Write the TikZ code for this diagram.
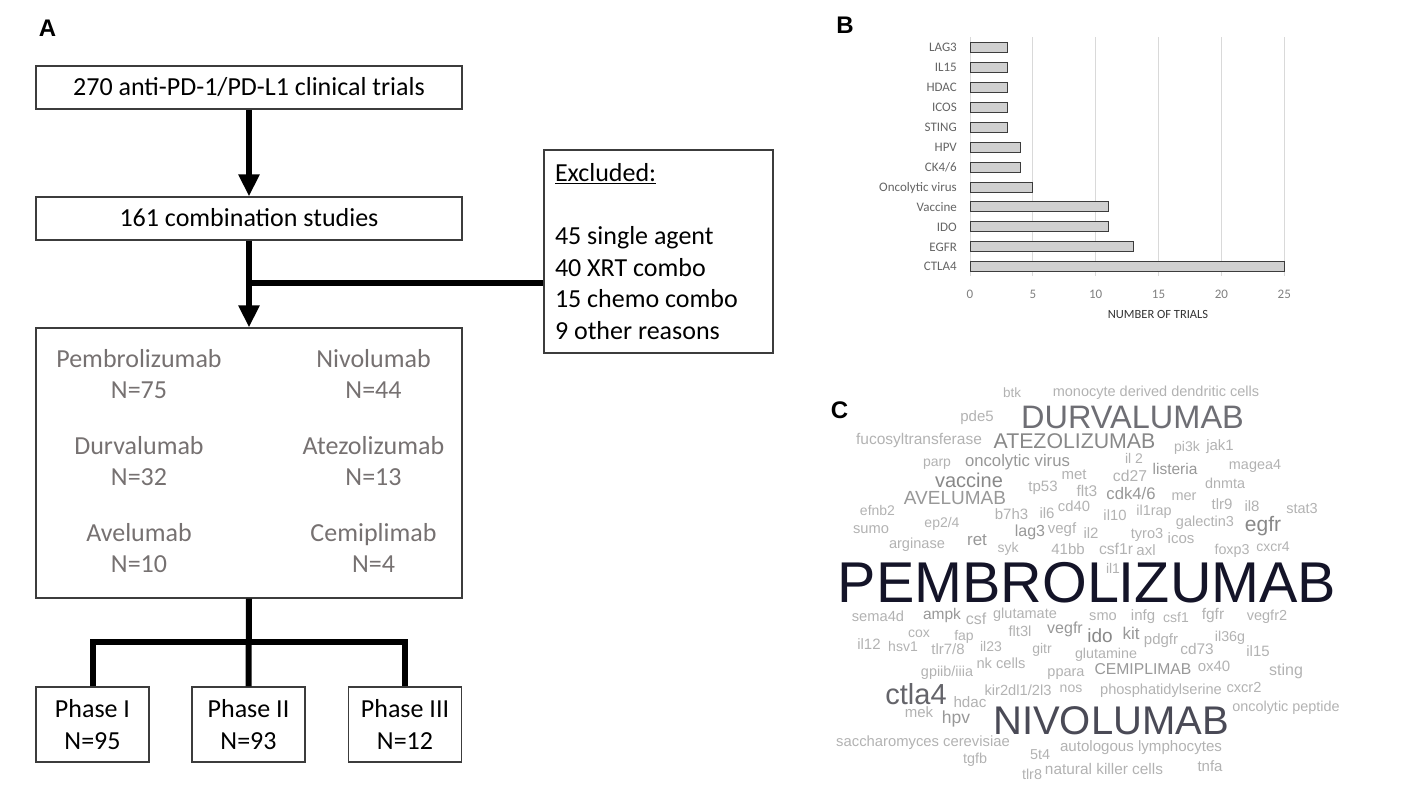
\documentclass[tikz,border=0pt]{standalone}
\usepackage{fontspec}
\setmainfont{Carlito}
\newfontfamily\cloudfont{Liberation Sans}
\usetikzlibrary{arrows.meta}
\definecolor{boxline}{RGB}{60,60,60}
\definecolor{druggray}{RGB}{118,113,113}
\definecolor{barfill}{RGB}{208,208,208}
\definecolor{barline}{RGB}{60,60,60}
\definecolor{gridgray}{RGB}{217,217,217}
\definecolor{labgray}{RGB}{100,100,100}
\definecolor{tickgray}{RGB}{128,128,128}
\definecolor{cwA}{RGB}{178,178,178}
\definecolor{cwB}{RGB}{152,152,152}
\definecolor{cwC}{RGB}{136,136,136}
\definecolor{cwD}{RGB}{110,110,116}
\definecolor{cwE}{RGB}{100,100,106}
\definecolor{cwN}{RGB}{74,74,86}
\definecolor{cwP}{RGB}{20,20,40}
\begin{document}
\begin{tikzpicture}[x=1pt,y=-1pt]
\useasboundingbox (0,0) rectangle (1418,798);
\tikzstyle{panel} = [anchor=base, inner sep=0pt, font=\cloudfont\bfseries\fontsize{24}{24}\selectfont]
\tikzstyle{flowbox} = [draw=boxline, line width=1.2pt, inner sep=0pt, font=\fontsize{26}{31.5}\selectfont]
\tikzstyle{flow} = [line width=6pt, -{Triangle[length=22pt,width=20pt]}]
\tikzstyle{branch} = [line width=6pt]
\tikzstyle{drug} = [align=center, inner sep=0pt, text=druggray, font=\fontsize{26}{31.5}\selectfont]
\node[panel] (labA) at (47.5,36) {A};
\node[panel] (labB) at (845,33.5) {B};
\node[panel] (labC) at (839.5,418.5) {C};
\node[flowbox, minimum width=426pt, minimum height=43pt, text height=16.7pt, text depth=0pt] (trials) at (249,87.5) {270 anti-PD-1/PD-L1 clinical trials};
\node[flowbox, minimum width=426pt, minimum height=43pt, text height=16.7pt, text depth=0pt] (combo) at (249,218.5) {161 combination studies};
\node[flowbox, minimum width=426pt, minimum height=270pt] (agents) at (249,463) {};
\node[flowbox, minimum width=229pt, minimum height=203pt, text width=207pt, inner xsep=11pt, align=flush left] (excl) at (658.5,251.5) {\underline{Excluded:}\\[31.5pt]45 single agent\\40 XRT combo\\15 chemo combo\\9 other reasons};
\node[flowbox, minimum width=113pt, minimum height=75pt, align=center] (ph1) at (92.5,724.5) {Phase I\\N=95};
\node[flowbox, minimum width=113pt, minimum height=75pt, align=center] (ph2) at (248.5,724.5) {Phase II\\N=93};
\node[flowbox, minimum width=113pt, minimum height=75pt, align=center] (ph3) at (405,724.5) {Phase III\\N=12};
\node[drug] (pembro) at (139,374) {Pembrolizumab\\N=75};
\node[drug] (nivo) at (373.5,374) {Nivolumab\\N=44};
\node[drug] (durva) at (139,461) {Durvalumab\\N=32};
\node[drug] (atezo) at (373.5,461) {Atezolizumab\\N=13};
\node[drug] (avelu) at (139,548) {Avelumab\\N=10};
\node[drug] (cemip) at (373.5,548) {Cemiplimab\\N=4};
\coordinate (split) at (249,283);
\draw[flow] (trials.south) -- (combo.north);
\draw[flow] (combo.south) -- (agents.north);
\draw[branch] (split) -- (split -| excl.west);
\draw[branch] (agents.south) -- (ph2.north);
\draw[branch] (ph1.north) -- ++(0,-44) -| (ph3.north);
\tikzstyle{gridline} = [draw=gridgray, line width=1pt]
\tikzstyle{bar} = [draw=barline, fill=barfill, line width=0.9pt]
\tikzstyle{barlab} = [anchor=base east, inner sep=0pt, text=labgray, font=\fontsize{13}{13}\selectfont]
\tikzstyle{ticklab} = [anchor=base, inner sep=0pt, text=tickgray, font=\fontsize{13}{13}\selectfont]
\foreach \t in {0,5,...,25}
  \draw[gridline] ({970+12.57*\t},37) -- ({970+12.57*\t},276);
\foreach \t in {0,5,...,25}
  \node[ticklab] (tick\t) at ({970+12.57*\t},298) {\t};
\foreach \lab/\val [count=\i from 0] in {LAG3/3, IL15/3, HDAC/3, ICOS/3, STING/3, HPV/4, {CK4/6}/4, Oncolytic virus/5, Vaccine/11, IDO/11, EGFR/13, CTLA4/25}{
  \draw[bar] (970,{42.3+19.95*\i}) rectangle ({970+12.57*\val},{52.3+19.95*\i});
  \node[barlab] (bar\i) at (957,{51.5+19.95*\i}) {\lab};
}
\node[anchor=base, inner sep=0pt, text=black!80, font=\fontsize{12.5}{12.5}\selectfont] (xtitle) at (1158,318.5) {NUMBER OF TRIALS};
\tikzstyle{word} = [anchor=base, inner sep=0pt]
\foreach \w/\x/\y/\s/\c [count=\k] in {
  btk/1012/394/13.5/cwA, monocyte derived dendritic cells/1156/393/14.5/cwA,
  pde5/977/418/15/cwA, DURVALUMAB/1132.5/420/32.5/cwD,
  fucosyltransferase/919/440/15.5/cwA, ATEZOLIZUMAB/1074.5/443/21.3/cwC,
  pi3k/1187/448/14/cwA, jak1/1220/447/15/cwA,
  parp/937/463/14/cwA, oncolytic virus/1017.5/462/16.7/cwB,
  il 2/1134/460/14/cwA, listeria/1175/470/15.5/cwB, magea4/1255/466/14.4/cwA,
  met/1074/476/15/cwA, cd27/1130/477/15.7/cwA,
  vaccine/969/482/20/cwC, tp53/1043/488/15/cwA, flt3/1087/492/15.5/cwA,
  {cdk4/6}/1131/495/16.7/cwB, mer/1184/497/14.5/cwA, dnmta/1225/485/14.4/cwA,
  AVELUMAB/955/500/19/cwB,
  efnb2/877.5/512/14/cwA, b7h3/1011.5/516/15/cwA, il6/1047/515/15/cwA,
  cd40/1074/508/14.8/cwA, il10/1115/517/14.8/cwA, il1rap/1154/512/14.4/cwA,
  tlr9/1222/506/15/cwA, il8/1252/508/15/cwA, stat3/1302/510/14.5/cwA,
  {ep2/4}/942/524/14/cwA, galectin3/1205/523/14.5/cwA, egfr/1263/526/21/cwC,
  sumo/871/530/14.7/cwA, lag3/1030/532/16/cwB, vegf/1062/530/15/cwA,
  il2/1091/535/15/cwA, tyro3/1147/535/14.6/cwA, icos/1181/540/15/cwA,
  arginase/917/545/14.6/cwA, ret/977/541/17/cwB, syk/1008/549/14/cwA,
  41bb/1068/551/15/cwA, csf1r/1116/550/15.7/cwA, axl/1146/552/15/cwA,
  foxp3/1232/551/14.3/cwA, cxcr4/1273/548/14/cwA, il1/1113/570/14/cwA,
  PEMBROLIZUMAB/1087/588/57.5/cwP,
  sema4d/878/618/14.7/cwA, ampk/942/615/15.5/cwB, csf/976/620/16/cwA,
  glutamate/1025/615/14.5/cwA, smo/1103/617/14.6/cwA, infg/1143/617/15/cwA,
  csf1/1176/619/14/cwA, fgfr/1213/615/15.5/cwA, vegfr2/1267/617/14.5/cwA,
  cox/919/634/14/cwA, fap/964/637/14/cwA, flt3l/1020/633/14.7/cwA,
  vegfr/1065/629/16/cwB, ido/1100/638/19/cwC, kit/1131/635/17/cwB,
  pdgfr/1161/641/15/cwA, il36g/1230/638/14.3/cwA,
  il12/869/646/15/cwA, hsv1/903/648/14/cwA, {tlr7/8}/948/651/15/cwA,
  il23/991/648/14/cwA, gitr/1042/650/14/cwA, glutamine/1106/655/14.3/cwA,
  cd73/1197/650/15.4/cwA, il15/1258/653/15/cwA,
  {gpiib/iiia}/947/673/14.4/cwA, nk cells/1001/665/14.7/cwA, ppara/1066/673/14.5/cwA,
  CEMIPLIMAB/1143/670.5/15.7/cwB, ox40/1214/668/15/cwA, sting/1286/671/16/cwA,
  ctla4/916/697/29/cwE, {kir2dl1/2l3}/1018/692/14.7/cwA, nos/1071/689/14/cwA,
  phosphatidylserine/1161/691/14.6/cwA, cxcr2/1244/689/14.6/cwA,
  hdac/970/704/15.2/cwA, mek/919/714/15/cwA, hpv/956/719/17.5/cwB,
  NIVOLUMAB/1111/724/40/cwN, oncolytic peptide/1286/708/14.4/cwA,
  saccharomyces cerevisiae/923/743/14.8/cwA, autologous lymphocytes/1141/748/15.1/cwA,
  5t4/1040/756/14.4/cwA, tgfb/975/760/14.4/cwA, tlr8/1032/776/14.4/cwA,
  natural killer cells/1104/770/15.4/cwA, tnfa/1210/768/15/cwA}
  \node[word, text=\c, font=\cloudfont\fontsize{\s}{\s}\selectfont] (word\k) at (\x,{\y+0.26*\s}) {\w};
\end{tikzpicture}
\end{document}
